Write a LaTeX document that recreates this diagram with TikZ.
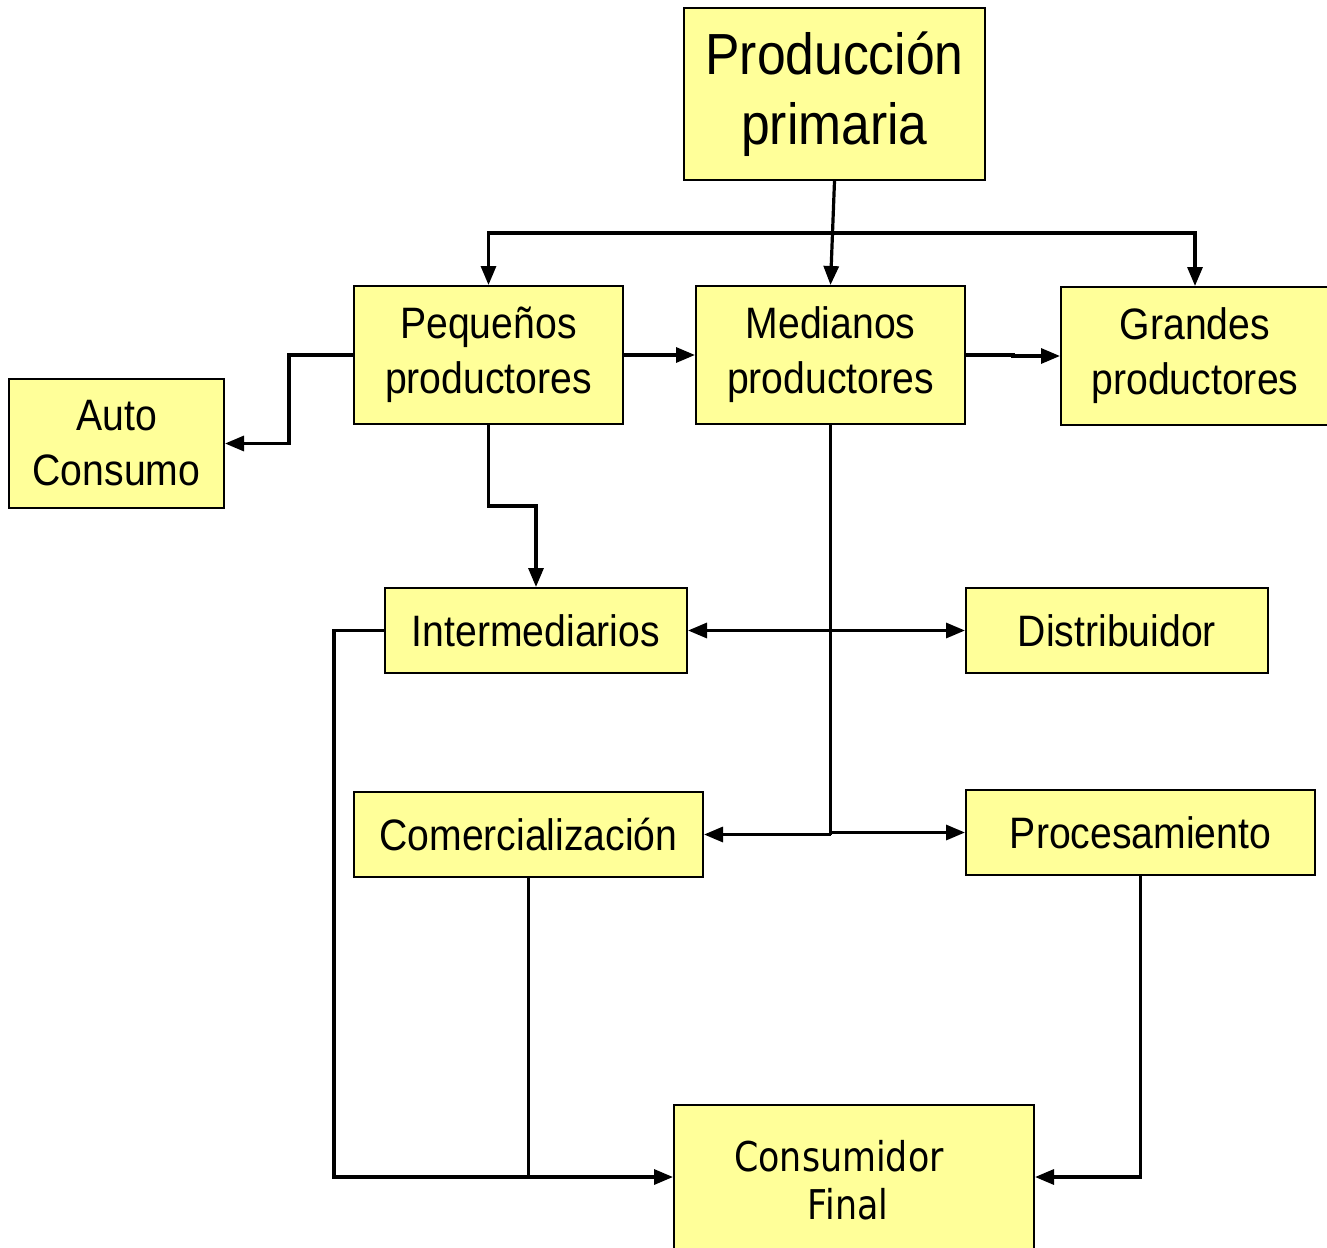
\documentclass[tikz,border=0pt]{standalone}
\usepackage{fontspec}
\setmainfont[FakeStretch=0.89]{Liberation Sans}
\newfontfamily\consfont[FakeStretch=0.85]{DejaVu Sans}
\usetikzlibrary{arrows.meta,calc}
\definecolor{boxfill}{RGB}{255,255,153}
\tikzset{
  box/.style={draw=black, line width=2pt, fill=boxfill, inner sep=0pt,
    align=center, font=\fontsize{44}{55}\selectfont},
  link/.style={line width=3.2pt, draw=black},
  arr/.style={link, -{Triangle[length=19pt,width=15pt]}},
  biarr/.style={link, {Triangle[length=19pt,width=15pt]}-{Triangle[length=19pt,width=15pt]}}
}
\begin{document}
\begin{tikzpicture}[x=1pt,y=-1pt]
\useasboundingbox (0,0) rectangle (1327,1247);
% boxes
\node[box, minimum width=301pt, minimum height=172pt, font=\fontsize{58}{70}\selectfont] (prod) at (834.5,94) {Producción\\primaria};
\node[box, minimum width=269pt, minimum height=138pt] (peq) at (488.5,355) {Pequeños\\productores};
\node[box, minimum width=269pt, minimum height=138pt] (med) at (830.5,355) {Medianos\\productores};
\node[box, minimum width=268pt, minimum height=138pt] (gra) at (1195,356) {Grandes\\productores};
\node[box, minimum width=215pt, minimum height=129pt] (auto) at (116.5,443.5) {Auto\\Consumo};
\node[box, minimum width=302pt, minimum height=85pt] (inter) at (536,630.5) {Intermediarios};
\node[box, minimum width=302pt, minimum height=85pt] (dist) at (1117,630.5) {Distribuidor};
\node[box, minimum width=349pt, minimum height=85pt] (com) at (528.5,834.5) {Comercialización};
\node[box, minimum width=349pt, minimum height=85pt] (proc) at (1140.5,832.5) {Procesamiento};
\node[box, minimum width=360pt, minimum height=144pt] (cons) at (854,1177) {};
\node[align=center, inner sep=0pt, font=\consfont\fontsize{41}{48}\selectfont] (conslabel) at (839,1180) {Consumidor\\\hspace*{18pt}Final};
% connectors
\draw[arr] (prod.south) -- (med.north);
\coordinate (split) at ($(prod.south)!0.5!(med.north)$);
\draw[arr] (split) -| (peq.north);
\draw[arr] (split) -| (gra.north);
\draw[arr] (peq.west) -- ++(-64,0) |- (auto.east);
\draw[arr] (peq.east) -- (med.west);
\draw[arr] (med.east) -- ++(47,0) |- (gra.west);
\draw[arr] (peq.south) -- ++(0,81) -| (inter.north);
\draw[biarr] (inter.east) -- (dist.west);
\draw[link] (med.south) -- ++(0,408) coordinate (mjoin);
\draw[link] (mjoin) -- (mjoin |- com.east);
\draw[arr] (mjoin |- com.east) -- (com.east);
\draw[arr] (mjoin |- proc.west) -- (proc.west);
\draw[arr] (inter.west) -- ++(-50,0) |- (cons.west);
\draw[link] (com.south) -- (com.south |- cons.west);
\draw[arr] (proc.south) |- (cons.east);
\end{tikzpicture}
\end{document}
